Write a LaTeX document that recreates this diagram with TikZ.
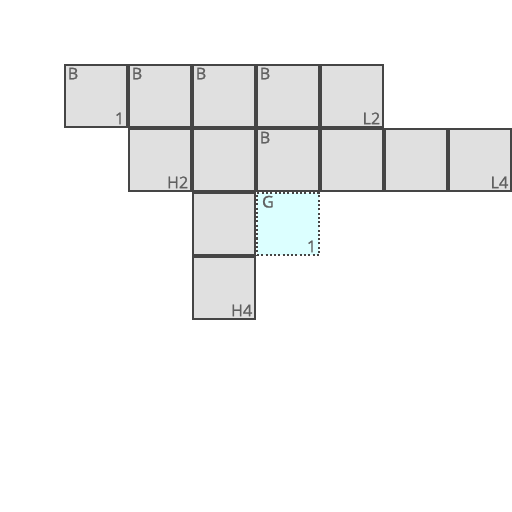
\documentclass[tikz,border=0pt]{standalone}
\usepackage{fontspec}
\newfontfamily\tagfont[FakeBold=1.2]{Open Sans}
\usepackage{xcolor}
\definecolor{cell-gray}{HTML}{E0E0E0}
\definecolor{cell-edge}{HTML}{454545}
\definecolor{cell-text}{HTML}{606060}
\definecolor{goal-cyan}{HTML}{DCFFFF}
\usetikzlibrary{positioning}

\begin{document}
\begin{tikzpicture}[
    cell/.style={draw=cell-edge, line width=0.9pt, fill=cell-gray, minimum size=0.97cm, inner sep=0pt},
    goal/.style={cell, fill=goal-cyan, densely dotted},
    tag/.style={font=\tagfont\fontsize{7.2}{7}\selectfont, text=cell-text, inner sep=1.5pt}
]
    \useasboundingbox (0,0) rectangle (8,8);

    % Celas
    \foreach \c/\r in {1/1, 2/1, 3/1, 4/1, 5/1, 2/2, 3/2, 4/2, 5/2, 6/2, 7/2, 3/3, 3/4} {
        \node[cell] (c\c\r) at (\c+0.5, 7.5-\r) {};
    }
    \node[goal] (c43) at (4.5, 4.5) {};

    % Rotulos de canto
    \foreach \c/\r in {1/1, 2/1, 3/1, 4/1, 4/2} {
        \node[tag, anchor=north west] (b\c\r) at (c\c\r.north west) {B};
    }
    \node[tag, anchor=north west, xshift=1pt] (g43) at (c43.north west) {G};

    \node[tag, anchor=south east] (n11) at (c11.south east) {1};
    \node[tag, anchor=south east] (n51) at (c51.south east) {L2};
    \node[tag, anchor=south east] (n22) at (c22.south east) {H2};
    \node[tag, anchor=south east] (n72) at (c72.south east) {L4};
    \node[tag, anchor=south east] (n43) at (c43.south east) {1};
    \node[tag, anchor=south east] (n34) at (c34.south east) {H4};
\end{tikzpicture}
\end{document}
